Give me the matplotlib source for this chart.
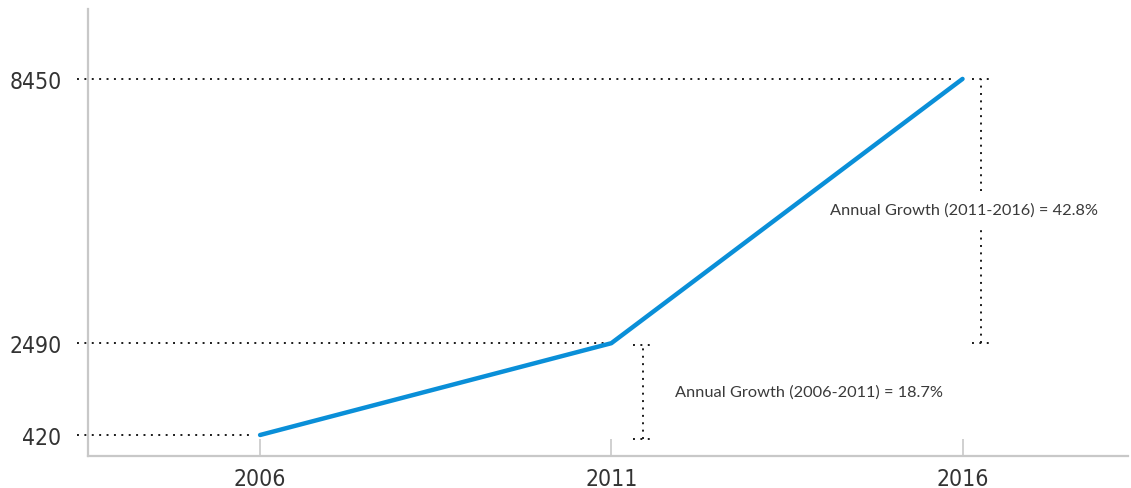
import matplotlib
matplotlib.use('Agg')
import matplotlib.pyplot as plt

years = [2006, 2011, 2016]
values = [420, 2490, 8450]
growth_labels = ['Annual Growth (2006-2011) = 18.7%', 'Annual Growth (2011-2016) = 42.8%']

label_font = ['DejaVu Sans']
note_font = ['Lato', 'DejaVu Sans']
dots = (0, (1, 2.8))

fig = plt.figure(figsize=(11.31, 4.89), dpi=100)
ax = fig.add_axes([0.0778, 0.0654, 0.9192, 0.9142])

ax.plot(years, values, color='#0a8fd8', lw=3.2, solid_capstyle='round', zorder=3)

ax.set_xlim(2003.55, 2018.35)
ax.set_ylim(-54, 10027)

# guide lines from the axis to each point
for yr, v in zip(years, values):
    ax.hlines(v, 2003.40, yr - 0.1, colors='#1a1a1a', linestyles=dots, lw=1.4, clip_on=False)

# bracket for 2006-2011
bx1 = 2011.455
ax.vlines(bx1, 330, 2450, colors='#1a1a1a', linestyles=dots, lw=1.4)
ax.hlines([330, 2450], bx1 - 0.14, bx1 + 0.14, colors='#1a1a1a', linestyles=dots, lw=1.4)
ax.text(2011.9, 1390, growth_labels[0], family=note_font, fontsize=11.8, color='#3a3a3a', va='center')

# bracket for 2011-2016
bx2 = 2016.27
ax.vlines(bx2, 5922, 8450, colors='#1a1a1a', linestyles=dots, lw=1.4)
ax.vlines(bx2, 2490, 5065, colors='#1a1a1a', linestyles=dots, lw=1.4)
ax.hlines([2490, 8450], bx2 - 0.14, bx2 + 0.14, colors='#1a1a1a', linestyles=dots, lw=1.4)
ax.text(2014.11, 5494, growth_labels[1], family=note_font, fontsize=11.8, color='#3a3a3a', va='center')

for s in ['top', 'right']:
    ax.spines[s].set_visible(False)
for s in ['left', 'bottom']:
    ax.spines[s].set_color('#c8c8c8')
    ax.spines[s].set_linewidth(1.6)

ax.set_xticks(years)
ax.set_xticklabels([str(y) for y in years], family=label_font, stretch='condensed', fontsize=16.5, color='#333333')
ax.set_yticks(values)
ax.set_yticklabels([str(v) for v in values], family=label_font, stretch='condensed', fontsize=16.5, color='#333333')
ax.tick_params(axis='x', direction='in', length=12, width=1.2, color='#c8c8c8', pad=8)
ax.tick_params(axis='y', length=0, pad=19)

fig.savefig('out.png', dpi=100)
